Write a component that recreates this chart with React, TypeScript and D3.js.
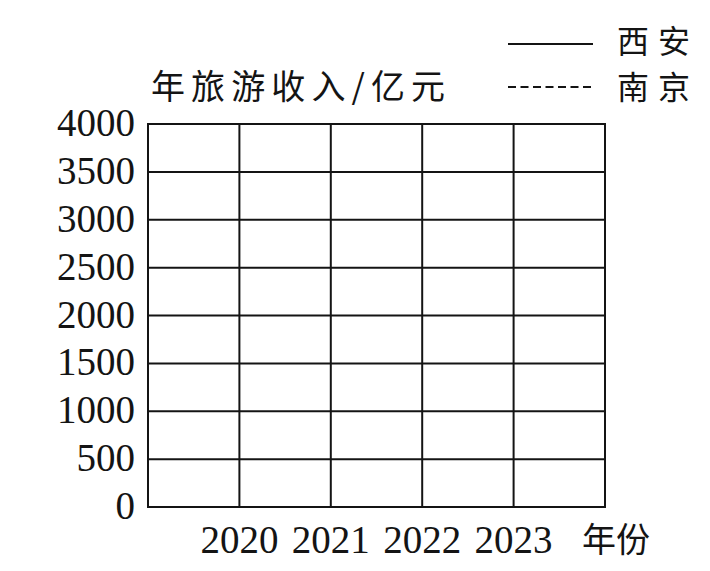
import * as d3 from "d3";

const years = [2020, 2021, 2022, 2023];
const yTicks = [0, 500, 1000, 1500, 2000, 2500, 3000, 3500, 4000];
const seriesNames = ["西安", "南京"];
const yTitle = "年旅游收入/亿元";
const xTitle = "年份";

const lineDash: Record<string, string> = { 西安: "none", 南京: "8 4.5" };

const serif = "'Liberation Serif', 'DejaVu Serif', serif";
const cjk = "'Noto Sans CJK SC', sans-serif";

export default function App() {
  const width = 710;
  const height = 571;
  const margin = { top: 124, right: 105, bottom: 64, left: 148 };
  const plotW = width - margin.left - margin.right;
  const plotH = height - margin.top - margin.bottom;

  // one empty column before the first year and after the last
  const x = d3.scaleLinear(
    [years[0] - 1, years[years.length - 1] + 1],
    [margin.left, margin.left + plotW]
  );
  const y = d3.scaleLinear([0, 4000], [margin.top + plotH, margin.top]);
  const gridX = d3.range(years[0] - 1, years[years.length - 1] + 2);

  const ink = "#141414";

  return (
    <svg
      width={width}
      height={height}
      viewBox={`0 0 ${width} ${height}`}
      style={{ position: "absolute", left: 0, top: 0, background: "#fff" }}
    >
      <rect width={width} height={height} fill="#fff" />
      {yTicks.map((tick) => (
        <g key={tick}>
          <line
            x1={x(gridX[0])}
            x2={x(gridX[gridX.length - 1])}
            y1={y(tick)}
            y2={y(tick)}
            stroke={ink}
            strokeWidth={2}
          />
          <text
            x={135}
            y={y(tick) + 12}
            textAnchor="end"
            fontFamily={serif}
            fontSize={39}
            fill={ink}
          >
            {tick}
          </text>
        </g>
      ))}
      {gridX.map((g) => (
        <line
          key={g}
          x1={x(g)}
          x2={x(g)}
          y1={y(0) + 1}
          y2={y(4000) - 1}
          stroke={ink}
          strokeWidth={2}
        />
      ))}
      {years.map((yr) => (
        <text
          key={yr}
          x={x(yr)}
          y={553}
          textAnchor="middle"
          fontFamily={serif}
          fontSize={39}
          fill={ink}
        >
          {yr}
        </text>
      ))}
      <text
        x={582}
        y={552}
        fontFamily={cjk}
        fontSize={34}
        textLength={68}
        lengthAdjust="spacing"
        fill={ink}
      >
        {xTitle}
      </text>
      <text
        x={151}
        y={99}
        fontFamily={cjk}
        fontSize={34}
        textLength={294}
        lengthAdjust="spacing"
        fill={ink}
      >
        {yTitle}
      </text>
      {seriesNames.map((name, i) => {
        const ly = 44 + i * 43;
        return (
          <g key={name}>
            <line
              x1={508}
              x2={593}
              y1={ly}
              y2={ly}
              stroke={ink}
              strokeWidth={2}
              strokeDasharray={lineDash[name]}
            />
            <text
              x={617}
              y={i === 0 ? 53 : 99}
              fontFamily={cjk}
              fontSize={32}
              textLength={73}
              lengthAdjust="spacing"
              fill={ink}
            >
              {name}
            </text>
          </g>
        );
      })}
    </svg>
  );
}
